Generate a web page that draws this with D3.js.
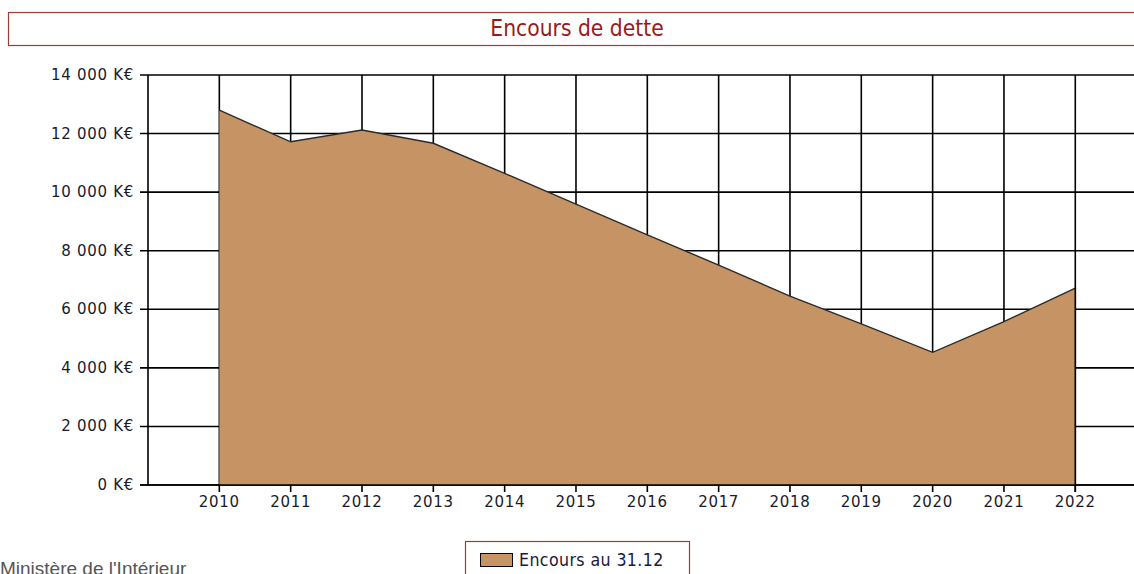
<!DOCTYPE html>
<meta charset="utf-8">
<style>
body { margin: 0; background: #fff; }
svg { display: block; }
.grid line { stroke: #000; stroke-width: 1.6px; }
.axis text { font-family: "DejaVu Sans", Verdana, sans-serif; font-size: 15px; letter-spacing: 0.7px; fill: #1a1a2a; }
</style>
<body>
<script src="https://d3js.org/d3.v7.min.js"></script>
<script>

var years = [2010, 2011, 2012, 2013, 2014, 2015, 2016, 2017, 2018, 2019, 2020, 2021, 2022];
var encours = [12800, 11720, 12120, 11670, 10640, 9590, 8540, 7510, 6450, 5500, 4530, 5580, 6720];
var yTicks = [0, 2000, 4000, 6000, 8000, 10000, 12000, 14000];
var seriesName = "Encours au 31.12";
var titleText = "Encours de dette";
var sourceText = "Ministère de l'Intérieur";

var W = 1134, H = 574;
var margin = {top: 75, left: 148, bottom: 485};

var svg = d3.select("body").append("svg")
    .attr("width", W)
    .attr("height", H);

var fr = d3.formatLocale({decimal: ",", thousands: " ", grouping: [3], currency: ["", " K€"]});
var fmt = function(d) { return fr.format(",")(d) + " K€"; };

var x = d3.scaleLinear().domain([2009, 2023]).range([margin.left, margin.left + 14 * 71.33]);
var y = d3.scaleLinear().domain([0, 14000]).range([margin.bottom, margin.top]);

// title box
svg.append("rect")
    .attr("x", 8.5).attr("y", 12.5)
    .attr("width", W + 20).attr("height", 33)
    .attr("fill", "#fff")
    .attr("stroke", "#a33a3a")
    .attr("stroke-width", 1.2);
svg.append("text")
    .attr("x", 577).attr("y", 36)
    .attr("text-anchor", "middle")
    .style("font-family", "'DejaVu Sans Condensed', 'DejaVu Sans', sans-serif")
    .style("font-size", "22.6px")
    .style("fill", "#9a1a1a")
    .text(titleText);

// horizontal grid
var grid = svg.append("g").attr("class", "grid");
grid.selectAll(".h").data(yTicks).enter().append("line")
    .attr("x1", margin.left - 8).attr("x2", W)
    .attr("y1", function(d) { return y(d); })
    .attr("y2", function(d) { return y(d); });

// vertical grid
grid.selectAll(".v").data(years).enter().append("line")
    .attr("x1", function(d) { return x(d); })
    .attr("x2", function(d) { return x(d); })
    .attr("y1", margin.top)
    .attr("y2", margin.bottom + 7);
grid.append("line")
    .attr("x1", margin.left).attr("x2", margin.left)
    .attr("y1", margin.top).attr("y2", margin.bottom);

// area
var area = d3.area()
    .x(function(d, i) { return x(years[i]); })
    .y0(y(0))
    .y1(function(d) { return y(d); });
var line = d3.line()
    .x(function(d, i) { return x(years[i]); })
    .y(function(d) { return y(d); });

svg.append("path")
    .datum(encours)
    .attr("fill", "#c69464")
    .attr("d", area);
svg.append("path")
    .datum(encours)
    .attr("fill", "none")
    .attr("stroke", "#2a2a2a")
    .attr("stroke-width", 1.4)
    .attr("d", line);
svg.append("line")
    .attr("x1", x(2022)).attr("x2", x(2022))
    .attr("y1", y(encours[encours.length - 1])).attr("y2", margin.bottom + 7)
    .attr("stroke", "#000").attr("stroke-width", 1.6);
svg.append("line")
    .attr("x1", margin.left - 8).attr("x2", W)
    .attr("y1", margin.bottom).attr("y2", margin.bottom)
    .attr("stroke", "#000").attr("stroke-width", 1.6);

// axis labels
var ax = svg.append("g").attr("class", "axis");
ax.selectAll(".yl").data(yTicks).enter().append("text")
    .attr("x", margin.left - 14)
    .attr("y", function(d) { return y(d) + 5; })
    .attr("text-anchor", "end")
    .text(fmt);
ax.selectAll(".xl").data(years).enter().append("text")
    .attr("x", function(d) { return x(d); })
    .attr("y", 507)
    .attr("text-anchor", "middle")
    .text(function(d) { return d; });

// legend
var lg = svg.append("g");
lg.append("rect")
    .attr("x", 465.5).attr("y", 541.5)
    .attr("width", 224).attr("height", 50)
    .attr("fill", "#fff")
    .attr("stroke", "#a33a3a")
    .attr("stroke-width", 1.2);
lg.append("rect")
    .attr("x", 480.5).attr("y", 553.5)
    .attr("width", 32).attr("height", 13)
    .attr("fill", "#c69464")
    .attr("stroke", "#000")
    .attr("stroke-width", 1);
lg.append("text")
    .attr("x", 519).attr("y", 566)
    .style("font-family", "'DejaVu Sans Condensed', 'DejaVu Sans', sans-serif")
    .style("font-size", "17.6px")
    .style("letter-spacing", "0.4px")
    .style("fill", "#1a1a3a")
    .text(seriesName);

svg.append("text")
    .attr("x", 0).attr("y", 575)
    .style("font-family", "'Liberation Sans', Arial, sans-serif")
    .style("font-size", "19px")
    .style("fill", "#555")
    .text(sourceText);

</script>
</body>
